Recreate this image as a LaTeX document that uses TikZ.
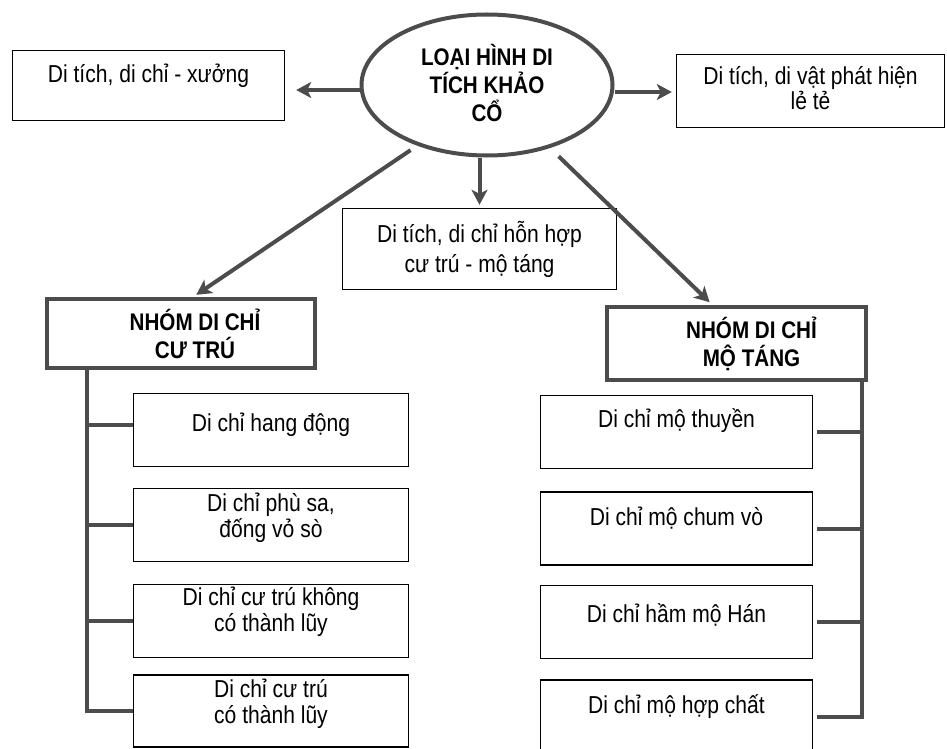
\documentclass[tikz,border=0pt]{standalone}
\usepackage{fontspec}
\setmainfont{Liberation Sans}[FakeStretch=0.86]
\usetikzlibrary{arrows.meta,shapes.geometric}
\definecolor{ink}{gray}{0.3}
\begin{document}
\begin{tikzpicture}[x=1pt,y=-1pt,
  every node/.style={font=\fontsize{24.5}{25.5}\selectfont, inner sep=0pt},
  plain/.style={draw=black, line width=1.4pt, rectangle},
  group/.style={draw=ink, line width=4pt, rectangle},
  lbl/.style={align=center},
  head/.style={align=center, font=\fontsize{24}{28}\selectfont\bfseries},
  arr/.style={draw=ink, line width=4pt, -{Stealth[length=15pt,width=16pt,inset=4pt]}},
  brk/.style={draw=ink, line width=4pt, line join=miter},
]
\useasboundingbox (0,0) rectangle (947,749);

% central ellipse
\node[ellipse, draw=ink, line width=4pt, minimum width=251pt, minimum height=141pt] (ell) at (487,85) {};
\node[head] (ellt) at (487,83) {LOẠI HÌNH DI\\TÍCH KHẢO\\CỔ};

% top row boxes
\node[plain, minimum width=272pt, minimum height=70pt] (xuong) at (148.5,85.5) {};
\node[lbl] (xuongt) at ([yshift=10pt]xuong.center) {Di tích, di chỉ - xưởng};

\node[plain, minimum width=268pt, minimum height=73pt] (le) at (810.5,91) {};
\node[lbl] (let) at ([yshift=3pt]le.center) {Di tích, di vật phát hiện\\lẻ tẻ};

\node[plain, minimum width=274pt, minimum height=81pt] (hon) at (479.5,249) {};
\node[lbl, font=\fontsize{24.5}{30}\selectfont] (hont) at (hon.center) {Di tích, di chỉ hỗn hợp\\cư trú - mộ táng};

% group headers
\node[group, minimum width=268pt, minimum height=69pt] (ct) at (181,333.5) {};
\node[head] (ctt) at ([xshift=14pt]ct.center) {NHÓM DI CHỈ\\CƯ TRÚ};

\node[group, minimum width=259pt, minimum height=73pt] (mt) at (736.5,343.5) {};
\node[head] (mtt) at ([xshift=15pt]mt.center) {NHÓM DI CHỈ\\MỘ TÁNG};

% residential sites
\node[plain, minimum width=275pt, minimum height=73pt] (c1) at (271,430) {};
\node[lbl] (c1t) at ([yshift=5pt]c1.center) {Di chỉ hang động};
\node[plain, minimum width=275pt, minimum height=73pt] (c2) at (271,525) {};
\node[lbl] (c2t) at ([yshift=7pt]c2.center) {Di chỉ phù sa,\\đống vỏ sò};
\node[plain, minimum width=275pt, minimum height=73pt] (c3) at (271,621) {};
\node[lbl] (c3t) at ([yshift=9pt]c3.center) {Di chỉ cư trú không\\có thành lũy};
\node[plain, minimum width=275pt, minimum height=72pt] (c4) at (271,711) {};
\node[lbl] (c4t) at ([yshift=7pt]c4.center) {Di chỉ cư trú\\có thành lũy};

% burial sites
\node[plain, minimum width=272pt, minimum height=73pt] (r1) at (676.5,432) {};
\node[lbl] (r1t) at ([yshift=11pt]r1.center) {Di chỉ mộ thuyền};
\node[plain, minimum width=272pt, minimum height=73pt] (r2) at (676.5,528.5) {};
\node[lbl] (r2t) at ([yshift=10pt]r2.center) {Di chỉ mộ chum vò};
\node[plain, minimum width=272pt, minimum height=73pt] (r3) at (676.5,622) {};
\node[lbl] (r3t) at ([yshift=7pt]r3.center) {Di chỉ hầm mộ Hán};
\node[plain, minimum width=272pt, minimum height=74pt] (r4) at (676.5,717) {};
\node[lbl] (r4t) at ([yshift=10pt]r4.center) {Di chỉ mộ hợp chất};

% arrows from the ellipse
\draw[arr, shorten >=11pt] ([yshift=-5pt]ell.west) -- ([yshift=-5pt]ell.west -| xuong.east);
\draw[arr, shorten >=4pt] ([yshift=-7pt]ell.east) -- ([yshift=-7pt]ell.east -| le.west);
\draw[arr, shorten >=3pt] (hon.north |- ell.south) -- (hon.north);
\draw[arr, shorten <=8pt, shorten >=4pt] (ell.221) -- ([xshift=12pt]ct.north);
\draw[arr, shorten <=12pt, shorten >=4pt] (ell.315) -- ([xshift=-24pt]mt.north);

% brackets
\coordinate (lb) at (87,370);
\coordinate (rb) at (862,382);
\coordinate (c1in) at ([yshift=5pt]c1.west);
\draw[brk] (lb) -- (lb |- c4.west) -- (c4.west);
\draw[brk] (lb |- c1in) -- (c1in);
\draw[brk] (lb |- c2.west) -- (c2.west);
\draw[brk] (lb |- c3.west) -- (c3.west);
\draw[brk] (rb) -- (rb |- r4.east) -- ([xshift=4pt]r4.east);
\draw[brk] (rb |- r1.east) -- ([xshift=4pt]r1.east);
\draw[brk] (rb |- r2.east) -- ([xshift=4pt]r2.east);
\draw[brk] (rb |- r3.east) -- ([xshift=4pt]r3.east);
\end{tikzpicture}
\end{document}
